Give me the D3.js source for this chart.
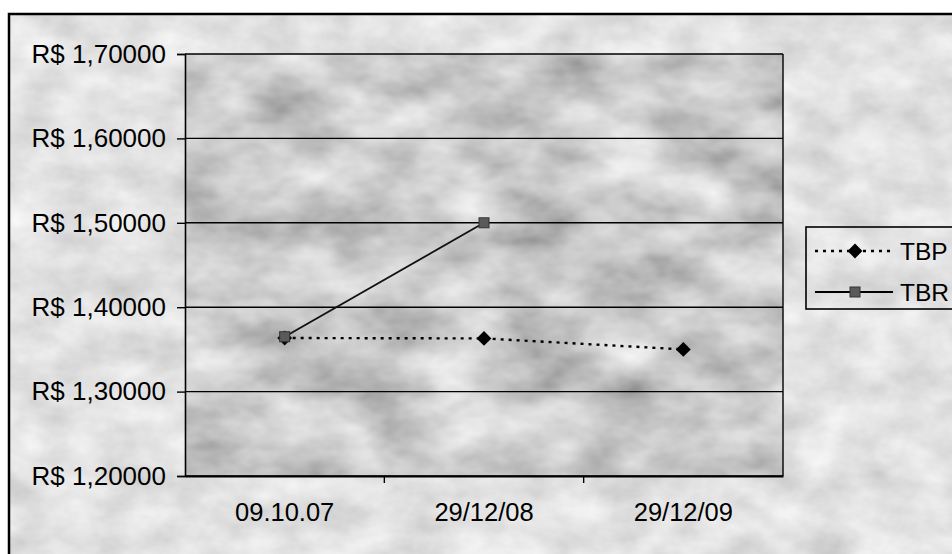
<!DOCTYPE html>
<html>
<head>
<meta charset="utf-8">
<script src="https://cdn.jsdelivr.net/npm/d3@7"></script>
<style>
  html, body { margin: 0; padding: 0; background: #ffffff; }
  svg { display: block; font-family: "Liberation Sans", Arial, sans-serif; }
</style>
</head>
<body>
<svg id="chart" width="952" height="554"></svg>
<script>
const categories = ["09.10.07", "29/12/08", "29/12/09"];
const tbpValues = [1.3635, 1.3630, 1.3500];
const tbrValues = [1.3650, 1.5000, null];
const yTicks = [1.2, 1.3, 1.4, 1.5, 1.6, 1.7];
const seriesNames = ["TBP", "TBR"];

const svg = d3.select("#chart");
const defs = svg.append("defs");

function noiseFilter(id, freq, scale, offset, seed) {
  const f = defs.append("filter").attr("id", id)
    .attr("x", 0).attr("y", 0).attr("width", "100%").attr("height", "100%");
  f.append("feTurbulence").attr("type", "fractalNoise")
    .attr("baseFrequency", freq).attr("numOctaves", 4).attr("seed", seed).attr("result", "n");
  f.append("feColorMatrix").attr("in", "n").attr("type", "matrix")
    .attr("values", `${scale} 0 0 0 ${offset}  ${scale} 0 0 0 ${offset}  ${scale} 0 0 0 ${offset}  0 0 0 0 1`);
}
noiseFilter("outerNoise", "0.02 0.03", 0.42, 0.55, 3);
noiseFilter("plotNoise", "0.012 0.02", 0.85, 0.17, 7);

const plot = { left: 185, right: 783, top: 54, bottom: 476 };

// outer chart area
svg.append("rect").attr("x", 9).attr("y", 14).attr("width", 960).attr("height", 560)
  .attr("filter", "url(#outerNoise)");
svg.append("rect").attr("x", 9).attr("y", 14).attr("width", 960).attr("height", 560)
  .attr("fill", "none").attr("stroke", "#000").attr("stroke-width", 2.5);

const x = d3.scaleBand().domain(categories).range([plot.left, plot.right]);
const y = d3.scaleLinear().domain([1.2, 1.7]).range([plot.bottom, plot.top]);

// plot area
svg.append("rect").attr("x", plot.left).attr("y", plot.top)
  .attr("width", plot.right - plot.left).attr("height", plot.bottom - plot.top)
  .attr("filter", "url(#plotNoise)");

// gridlines
svg.append("g").selectAll("line").data(yTicks).join("line")
  .attr("x1", plot.left).attr("x2", plot.right)
  .attr("y1", d => y(d)).attr("y2", d => y(d))
  .attr("stroke", "#000").attr("stroke-width", 1.4);
svg.append("line").attr("x1", plot.right).attr("x2", plot.right)
  .attr("y1", plot.top).attr("y2", plot.bottom).attr("stroke", "#000").attr("stroke-width", 1.4);

// y axis
const fmt = d => "R$ " + d3.format(".5f")(d).replace(".", ",");
const yAxis = svg.append("g").attr("transform", `translate(${plot.left},0)`)
  .call(d3.axisLeft(y).tickValues(yTicks).tickFormat(fmt).tickSize(8).tickPadding(11));
yAxis.select(".domain").attr("stroke", "#000").attr("stroke-width", 1.6);
yAxis.selectAll(".tick line").attr("stroke", "#000").attr("stroke-width", 1.4);
yAxis.selectAll("text").attr("font-size", 26).attr("fill", "#000")
  .attr("font-family", "Liberation Sans, Arial, sans-serif");

// x axis
const xAxis = svg.append("g").attr("transform", `translate(0,${plot.bottom})`)
  .call(d3.axisBottom(x).tickSize(0).tickPadding(27));
xAxis.select(".domain").attr("stroke", "#000").attr("stroke-width", 2);
xAxis.selectAll("text").attr("font-size", 25.5).attr("fill", "#000")
  .attr("font-family", "Liberation Sans, Arial, sans-serif");
// ticks between categories
xAxis.append("g").selectAll("line").data(categories.slice(1)).join("line")
  .attr("x1", d => x(d)).attr("x2", d => x(d)).attr("y1", 0).attr("y2", 7)
  .attr("stroke", "#000").attr("stroke-width", 1.4);

const cx = d => x(d) + x.bandwidth() / 2;

// series
const tbpData = categories.map((c, i) => ({ c, v: tbpValues[i] })).filter(d => d.v != null);
const tbrData = categories.map((c, i) => ({ c, v: tbrValues[i] })).filter(d => d.v != null);
const line = d3.line().x(d => cx(d.c)).y(d => y(d.v));

svg.append("path").datum(tbpData).attr("d", line).attr("fill", "none")
  .attr("stroke", "#000").attr("stroke-width", 2.4).attr("stroke-dasharray", "3,5");
const diamond = d3.symbol().type(d3.symbolSquare).size(110);
svg.append("g").selectAll("path").data(tbpData).join("path")
  .attr("d", diamond())
  .attr("transform", d => `translate(${cx(d.c)},${y(d.v)}) rotate(45)`)
  .attr("fill", "#000");

svg.append("path").datum(tbrData).attr("d", line).attr("fill", "none")
  .attr("stroke", "#111").attr("stroke-width", 1.8);
svg.append("g").selectAll("rect").data(tbrData).join("rect")
  .attr("x", d => cx(d.c) - 5).attr("y", d => y(d.v) - 5)
  .attr("width", 10).attr("height", 10)
  .attr("fill", "#5a5a5a").attr("stroke", "#333").attr("stroke-width", 1);

// legend
const legend = svg.append("g");
legend.append("rect").attr("x", 806).attr("y", 227).attr("width", 200).attr("height", 82)
  .attr("fill", "none").attr("stroke", "#000").attr("stroke-width", 1.6);
const legY = [251, 292];
seriesNames.forEach((name, i) => {
  const g = legend.append("g");
  g.append("line").attr("x1", 815).attr("x2", 893).attr("y1", legY[i]).attr("y2", legY[i])
    .attr("stroke", "#000").attr("stroke-width", i === 0 ? 2.4 : 1.8)
    .attr("stroke-dasharray", i === 0 ? "3,5" : null);
  if (i === 0) {
    g.append("path").attr("d", diamond())
      .attr("transform", `translate(855,${legY[i]}) rotate(45)`).attr("fill", "#000");
  } else {
    g.append("rect").attr("x", 850).attr("y", legY[i] - 5).attr("width", 10).attr("height", 10)
      .attr("fill", "#5a5a5a").attr("stroke", "#333");
  }
  g.append("text").attr("x", 900).attr("y", legY[i]).attr("dy", "0.36em")
    .attr("font-size", 24.5).attr("fill", "#000").text(name);
});
</script>
</body>
</html>
